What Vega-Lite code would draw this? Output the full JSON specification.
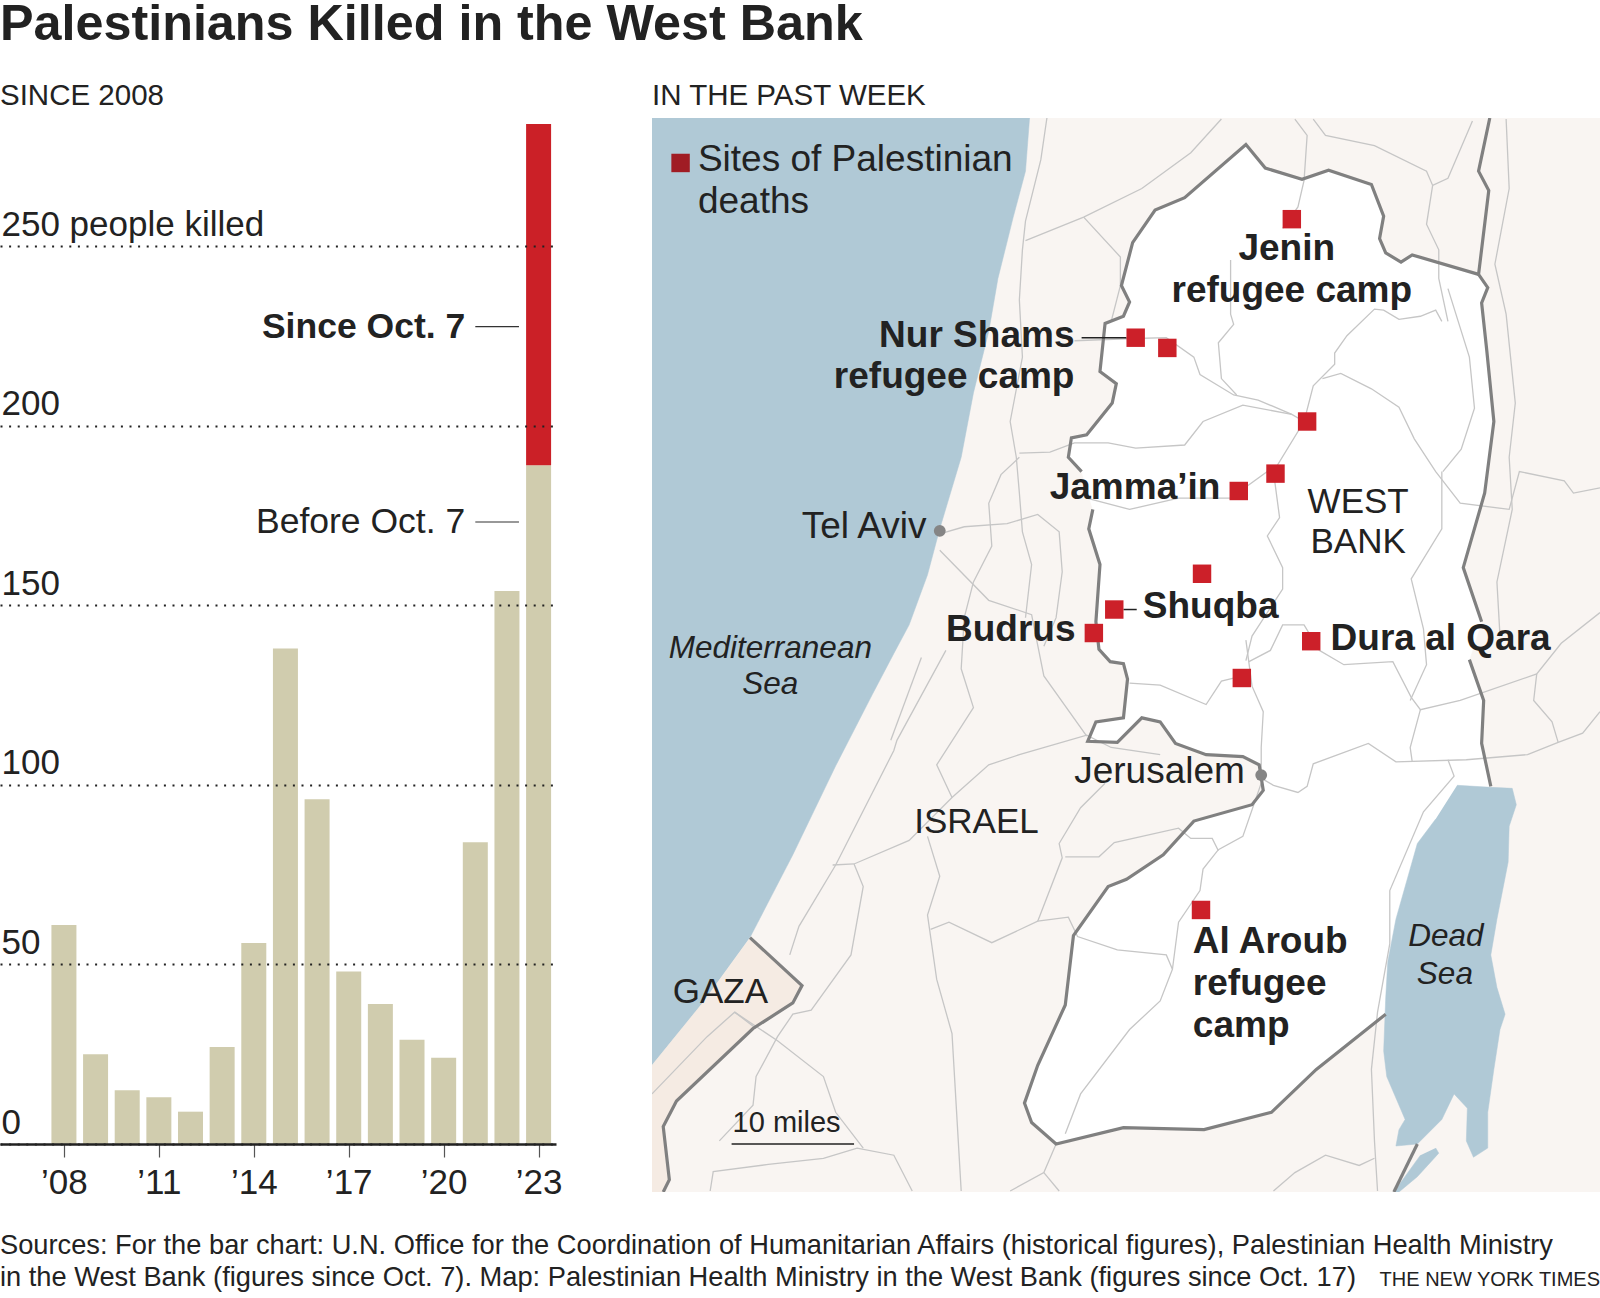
{"$schema":"https://vega.github.io/schema/vega-lite/v6.json","padding":0,"background":"white","title":{"text":"Palestinians Killed in the West Bank","anchor":"start","frame":"group","fontSize":50.3,"fontWeight":"bold","color":"#222","font":"Liberation Sans","offset":30},
"config":{"font":"Liberation Sans","view":{"stroke":null},"text":{"font":"Liberation Sans","color":"#222"}},
"datasets":{
"bars":[{"year":2008,"from":0,"to":61,"period":"Before Oct. 7"},{"year":2009,"from":0,"to":25,"period":"Before Oct. 7"},{"year":2010,"from":0,"to":15,"period":"Before Oct. 7"},{"year":2011,"from":0,"to":13,"period":"Before Oct. 7"},{"year":2012,"from":0,"to":9,"period":"Before Oct. 7"},{"year":2013,"from":0,"to":27,"period":"Before Oct. 7"},{"year":2014,"from":0,"to":56,"period":"Before Oct. 7"},{"year":2015,"from":0,"to":138,"period":"Before Oct. 7"},{"year":2016,"from":0,"to":96,"period":"Before Oct. 7"},{"year":2017,"from":0,"to":48,"period":"Before Oct. 7"},{"year":2018,"from":0,"to":39,"period":"Before Oct. 7"},{"year":2019,"from":0,"to":29,"period":"Before Oct. 7"},{"year":2020,"from":0,"to":24,"period":"Before Oct. 7"},{"year":2021,"from":0,"to":84,"period":"Before Oct. 7"},{"year":2022,"from":0,"to":154,"period":"Before Oct. 7"},{"year":2023,"from":0,"to":189,"period":"Before Oct. 7"},{"year":2023,"from":189,"to":284,"period":"Since Oct. 7"}],
"notes":[{"label":"Since Oct. 7","year":2020.68,"start":2021.0,"end":2022.38,"value":227.6,"bold":true},{"label":"Before Oct. 7","year":2020.68,"start":2021.0,"end":2022.38,"value":173.2,"bold":false}],
"poly":[
{"k":"sea","x":639,"y":116},{"k":"sea","x":1009,"y":116},{"k":"sea","x":1005,"y":168},{"k":"sea","x":993,"y":213},{"k":"sea","x":978,"y":273},{"k":"sea","x":969,"y":325},{"k":"sea","x":954,"y":385},{"k":"sea","x":942,"y":448},{"k":"sea","x":921,"y":518},{"k":"sea","x":909,"y":563},{"k":"sea","x":891,"y":612},{"k":"sea","x":876,"y":640},{"k":"sea","x":855,"y":680},{"k":"sea","x":819,"y":750},{"k":"sea","x":777,"y":837},{"k":"sea","x":735,"y":918},{"k":"sea","x":687,"y":984},{"k":"sea","x":639,"y":1043},
{"k":"gaza","x":735,"y":918},{"k":"gaza","x":786,"y":965},{"k":"gaza","x":777,"y":982},{"k":"gaza","x":738,"y":1007},{"k":"gaza","x":663,"y":1078},{"k":"gaza","x":650,"y":1103},{"k":"gaza","x":656,"y":1155},{"k":"gaza","x":650,"y":1167},{"k":"gaza","x":639,"y":1167},{"k":"gaza","x":639,"y":1043},{"k":"gaza","x":687,"y":984},
{"k":"wb","x":1221,"y":142},{"k":"wb","x":1240,"y":165},{"k":"wb","x":1276,"y":176},{"k":"wb","x":1302,"y":167},{"k":"wb","x":1344,"y":181},{"k":"wb","x":1356,"y":212},{"k":"wb","x":1352,"y":234},{"k":"wb","x":1358,"y":248},{"k":"wb","x":1373,"y":257},{"k":"wb","x":1384,"y":250},{"k":"wb","x":1449,"y":269},{"k":"wb","x":1458,"y":282},{"k":"wb","x":1452,"y":297},{"k":"wb","x":1457,"y":343},{"k":"wb","x":1464,"y":413},{"k":"wb","x":1455,"y":483},{"k":"wb","x":1434,"y":556},{"k":"wb","x":1452,"y":609},{"k":"wb","x":1440,"y":646},{"k":"wb","x":1454,"y":686},{"k":"wb","x":1452,"y":728},{"k":"wb","x":1461,"y":770},{"k":"wb","x":1358,"y":993},{"k":"wb","x":1290,"y":1047},{"k":"wb","x":1246,"y":1089},{"k":"wb","x":1180,"y":1106},{"k":"wb","x":1101,"y":1104},{"k":"wb","x":1035,"y":1120},{"k":"wb","x":1011,"y":1099},{"k":"wb","x":1004,"y":1080},{"k":"wb","x":1017,"y":1043},{"k":"wb","x":1044,"y":984},{"k":"wb","x":1052,"y":916},{"k":"wb","x":1086,"y":868},{"k":"wb","x":1104,"y":861},{"k":"wb","x":1140,"y":837},{"k":"wb","x":1170,"y":804},{"k":"wb","x":1227,"y":788},{"k":"wb","x":1238,"y":774},{"k":"wb","x":1234,"y":749},{"k":"wb","x":1218,"y":741},{"k":"wb","x":1182,"y":739},{"k":"wb","x":1152,"y":728},{"k":"wb","x":1137,"y":707},{"k":"wb","x":1119,"y":703},{"k":"wb","x":1095,"y":727},{"k":"wb","x":1066,"y":726},{"k":"wb","x":1074,"y":707},{"k":"wb","x":1101,"y":703},{"k":"wb","x":1105,"y":665},{"k":"wb","x":1101,"y":650},{"k":"wb","x":1088,"y":648},{"k":"wb","x":1077,"y":636},{"k":"wb","x":1074,"y":609},{"k":"wb","x":1078,"y":553},{"k":"wb","x":1067,"y":518},{"k":"wb","x":1071,"y":499},{"k":"wb","x":1060,"y":462},{"k":"wb","x":1047,"y":448},{"k":"wb","x":1050,"y":429},{"k":"wb","x":1065,"y":426},{"k":"wb","x":1090,"y":395},{"k":"wb","x":1094,"y":376},{"k":"wb","x":1078,"y":364},{"k":"wb","x":1083,"y":317},{"k":"wb","x":1101,"y":310},{"k":"wb","x":1107,"y":296},{"k":"wb","x":1099,"y":280},{"k":"wb","x":1110,"y":238},{"k":"wb","x":1132,"y":206},{"k":"wb","x":1161,"y":194},
{"k":"ds","x":1428,"y":769},{"k":"ds","x":1461,"y":771},{"k":"ds","x":1482,"y":772},{"k":"ds","x":1486,"y":788},{"k":"ds","x":1479,"y":809},{"k":"ds","x":1478,"y":844},{"k":"ds","x":1467,"y":900},{"k":"ds","x":1461,"y":935},{"k":"ds","x":1467,"y":967},{"k":"ds","x":1475,"y":993},{"k":"ds","x":1470,"y":1008},{"k":"ds","x":1464,"y":1047},{"k":"ds","x":1458,"y":1089},{"k":"ds","x":1458,"y":1124},{"k":"ds","x":1444,"y":1133},{"k":"ds","x":1437,"y":1117},{"k":"ds","x":1438,"y":1085},{"k":"ds","x":1425,"y":1071},{"k":"ds","x":1413,"y":1096},{"k":"ds","x":1389,"y":1120},{"k":"ds","x":1368,"y":1122},{"k":"ds","x":1371,"y":1106},{"k":"ds","x":1377,"y":1096},{"k":"ds","x":1359,"y":1054},{"k":"ds","x":1356,"y":1029},{"k":"ds","x":1358,"y":977},{"k":"ds","x":1360,"y":942},{"k":"ds","x":1368,"y":900},{"k":"ds","x":1389,"y":826},{"k":"ds","x":1407,"y":802},
{"k":"ds2","x":1407,"y":1124},{"k":"ds2","x":1410,"y":1129},{"k":"ds2","x":1389,"y":1152},{"k":"ds2","x":1371,"y":1167},{"k":"ds2","x":1366,"y":1167},{"k":"ds2","x":1392,"y":1131}],
"roads":[
{"k":"r1","x":1026,"y":116},{"k":"r1","x":1020,"y":157},{"k":"r1","x":1005,"y":217},{"k":"r1","x":1002,"y":245},{"k":"r1","x":999,"y":294},{"k":"r1","x":1002,"y":350},{"k":"r1","x":990,"y":413},{"k":"r1","x":996,"y":448},{"k":"r1","x":999,"y":483},{"k":"r1","x":1002,"y":521},{"k":"r1","x":1011,"y":553},{"k":"r1","x":1005,"y":605},
{"k":"r2","x":1005,"y":236},{"k":"r2","x":1062,"y":213},{"k":"r2","x":1119,"y":185},{"k":"r2","x":1167,"y":150},{"k":"r2","x":1197,"y":117},
{"k":"r3","x":1062,"y":213},{"k":"r3","x":1098,"y":252},{"k":"r3","x":1098,"y":280},{"k":"r3","x":1089,"y":315},
{"k":"r4","x":1053,"y":334},{"k":"r4","x":1104,"y":332},{"k":"r4","x":1143,"y":331},{"k":"r4","x":1170,"y":350},{"k":"r4","x":1176,"y":367},{"k":"r4","x":1209,"y":387},{"k":"r4","x":1233,"y":392},{"k":"r4","x":1266,"y":406},{"k":"r4","x":1278,"y":413},
{"k":"r5","x":1269,"y":117},{"k":"r5","x":1281,"y":133},{"k":"r5","x":1278,"y":177},{"k":"r5","x":1272,"y":203},{"k":"r5","x":1257,"y":224},
{"k":"r6","x":1206,"y":255},{"k":"r6","x":1206,"y":308},{"k":"r6","x":1209,"y":318},{"k":"r6","x":1194,"y":336},{"k":"r6","x":1197,"y":371},{"k":"r6","x":1212,"y":387},
{"k":"r7","x":1287,"y":117},{"k":"r7","x":1299,"y":133},{"k":"r7","x":1347,"y":143},{"k":"r7","x":1398,"y":168},{"k":"r7","x":1404,"y":182},{"k":"r7","x":1419,"y":175},{"k":"r7","x":1443,"y":119},
{"k":"r8","x":1404,"y":182},{"k":"r8","x":1398,"y":220},{"k":"r8","x":1410,"y":245},{"k":"r8","x":1410,"y":273},{"k":"r8","x":1419,"y":315},
{"k":"r9","x":1413,"y":315},{"k":"r9","x":1407,"y":304},{"k":"r9","x":1392,"y":310},{"k":"r9","x":1371,"y":313},{"k":"r9","x":1356,"y":304},{"k":"r9","x":1347,"y":303},{"k":"r9","x":1320,"y":329},{"k":"r9","x":1308,"y":346},{"k":"r9","x":1308,"y":357},{"k":"r9","x":1287,"y":378},{"k":"r9","x":1278,"y":413},{"k":"r9","x":1248,"y":462},{"k":"r9","x":1254,"y":507},{"k":"r9","x":1242,"y":525},{"k":"r9","x":1257,"y":556},{"k":"r9","x":1257,"y":577},{"k":"r9","x":1227,"y":623},{"k":"r9","x":1221,"y":647},
{"k":"r10","x":1296,"y":371},{"k":"r10","x":1314,"y":366},{"k":"r10","x":1344,"y":381},{"k":"r10","x":1371,"y":399},{"k":"r10","x":1386,"y":430},{"k":"r10","x":1407,"y":462},{"k":"r10","x":1431,"y":493},{"k":"r10","x":1479,"y":499},{"k":"r10","x":1489,"y":462},{"k":"r10","x":1533,"y":471},{"k":"r10","x":1542,"y":483},{"k":"r10","x":1568,"y":478},
{"k":"r11","x":1419,"y":283},{"k":"r11","x":1440,"y":350},{"k":"r11","x":1445,"y":400},{"k":"r11","x":1432,"y":440},{"k":"r11","x":1414,"y":462},
{"k":"r12","x":999,"y":444},{"k":"r12","x":1029,"y":443},{"k":"r12","x":1053,"y":434},{"k":"r12","x":1086,"y":434},{"k":"r12","x":1113,"y":439},{"k":"r12","x":1161,"y":436},{"k":"r12","x":1179,"y":413},{"k":"r12","x":1218,"y":397},{"k":"r12","x":1266,"y":406},
{"k":"r13","x":1065,"y":488},{"k":"r13","x":1107,"y":499},{"k":"r13","x":1155,"y":488},{"k":"r13","x":1206,"y":488},{"k":"r13","x":1242,"y":462},
{"k":"r14","x":921,"y":523},{"k":"r14","x":945,"y":516},{"k":"r14","x":987,"y":513},{"k":"r14","x":1017,"y":504},{"k":"r14","x":1038,"y":521},{"k":"r14","x":1041,"y":560},{"k":"r14","x":1035,"y":605},{"k":"r14","x":1023,"y":633},
{"k":"r15","x":921,"y":539},{"k":"r15","x":969,"y":588},{"k":"r15","x":1011,"y":602},{"k":"r15","x":1023,"y":662},{"k":"r15","x":1065,"y":721},
{"k":"r16","x":999,"y":448},{"k":"r16","x":981,"y":465},{"k":"r16","x":969,"y":493},{"k":"r16","x":972,"y":535},{"k":"r16","x":954,"y":570},{"k":"r16","x":945,"y":605},{"k":"r16","x":942,"y":655},{"k":"r16","x":954,"y":693},{"k":"r16","x":918,"y":749},{"k":"r16","x":933,"y":781},
{"k":"r17","x":927,"y":637},{"k":"r17","x":879,"y":725},{"k":"r17","x":876,"y":735},{"k":"r17","x":819,"y":847},{"k":"r17","x":783,"y":907},{"k":"r17","x":774,"y":935},
{"k":"r17b","x":816,"y":847},{"k":"r17b","x":837,"y":846},{"k":"r17b","x":891,"y":823},{"k":"r17b","x":933,"y":781},{"k":"r17b","x":969,"y":749},{"k":"r17b","x":999,"y":739},{"k":"r17b","x":1065,"y":720},{"k":"r17b","x":1089,"y":732},{"k":"r17b","x":1137,"y":739},
{"k":"r18","x":837,"y":846},{"k":"r18","x":846,"y":868},{"k":"r18","x":834,"y":935},{"k":"r18","x":795,"y":989},{"k":"r18","x":777,"y":993},{"k":"r18","x":762,"y":1015},{"k":"r18","x":741,"y":1054},{"k":"r18","x":738,"y":1082},{"k":"r18","x":705,"y":1117},
{"k":"r19","x":909,"y":819},{"k":"r19","x":921,"y":858},{"k":"r19","x":909,"y":896},{"k":"r19","x":918,"y":959},{"k":"r19","x":933,"y":1012},{"k":"r19","x":942,"y":1166},
{"k":"r20","x":912,"y":910},{"k":"r20","x":930,"y":903},{"k":"r20","x":972,"y":923},{"k":"r20","x":1017,"y":902},{"k":"r20","x":1047,"y":898},{"k":"r20","x":1056,"y":917},{"k":"r20","x":1095,"y":930},{"k":"r20","x":1143,"y":935},{"k":"r20","x":1149,"y":949},{"k":"r20","x":1137,"y":980},{"k":"r20","x":1107,"y":1008},{"k":"r20","x":1059,"y":1071},{"k":"r20","x":1044,"y":1110},
{"k":"r21","x":1017,"y":902},{"k":"r21","x":1041,"y":840},{"k":"r21","x":1038,"y":826},{"k":"r21","x":1059,"y":791},{"k":"r21","x":1083,"y":767},
{"k":"r22","x":1044,"y":839},{"k":"r22","x":1077,"y":839},{"k":"r22","x":1092,"y":825},{"k":"r22","x":1155,"y":811},{"k":"r22","x":1167,"y":821},{"k":"r22","x":1188,"y":821},{"k":"r22","x":1194,"y":833},
{"k":"r23","x":1236,"y":767},{"k":"r23","x":1218,"y":819},{"k":"r23","x":1194,"y":832},{"k":"r23","x":1179,"y":851},{"k":"r23","x":1176,"y":872},{"k":"r23","x":1155,"y":903},{"k":"r23","x":1149,"y":949},
{"k":"r24","x":1236,"y":762},{"k":"r24","x":1248,"y":769},{"k":"r24","x":1272,"y":776},{"k":"r24","x":1281,"y":770},{"k":"r24","x":1287,"y":748},{"k":"r24","x":1341,"y":728},{"k":"r24","x":1368,"y":746},{"k":"r24","x":1437,"y":744},{"k":"r24","x":1497,"y":739},{"k":"r24","x":1527,"y":727},{"k":"r24","x":1551,"y":718},{"k":"r24","x":1568,"y":697},
{"k":"r25","x":1221,"y":627},{"k":"r25","x":1227,"y":672},{"k":"r25","x":1238,"y":697},{"k":"r25","x":1236,"y":732},{"k":"r25","x":1236,"y":760},
{"k":"r26","x":1107,"y":669},{"k":"r26","x":1137,"y":671},{"k":"r26","x":1182,"y":690},{"k":"r26","x":1197,"y":667},{"k":"r26","x":1218,"y":662},
{"k":"r27","x":1293,"y":637},{"k":"r27","x":1317,"y":651},{"k":"r27","x":1365,"y":648},{"k":"r27","x":1383,"y":683},{"k":"r27","x":1392,"y":695},{"k":"r27","x":1431,"y":686},{"k":"r27","x":1506,"y":660},{"k":"r27","x":1530,"y":630},{"k":"r27","x":1568,"y":600},
{"k":"r28","x":1392,"y":695},{"k":"r28","x":1382,"y":732},{"k":"r28","x":1384,"y":746},
{"k":"r29","x":1506,"y":660},{"k":"r29","x":1503,"y":686},{"k":"r29","x":1521,"y":707},{"k":"r29","x":1527,"y":727},
{"k":"r30","x":1419,"y":744},{"k":"r30","x":1425,"y":760},{"k":"r30","x":1395,"y":795},{"k":"r30","x":1362,"y":872},{"k":"r30","x":1362,"y":924},{"k":"r30","x":1350,"y":991},{"k":"r30","x":1344,"y":1047},{"k":"r30","x":1347,"y":1117},{"k":"r30","x":1350,"y":1166},
{"k":"r31","x":696,"y":1166},{"k":"r31","x":699,"y":1147},{"k":"r31","x":753,"y":1140},{"k":"r31","x":807,"y":1134},{"k":"r31","x":840,"y":1124},{"k":"r31","x":876,"y":1131},{"k":"r31","x":894,"y":1166},
{"k":"r32","x":720,"y":991},{"k":"r32","x":762,"y":1019},{"k":"r32","x":807,"y":1054},{"k":"r32","x":819,"y":1089},{"k":"r32","x":846,"y":1124},
{"k":"r33","x":639,"y":1071},{"k":"r33","x":693,"y":1015},{"k":"r33","x":720,"y":991},{"k":"r33","x":741,"y":1007},
{"k":"r34","x":1035,"y":1120},{"k":"r34","x":1023,"y":1148},{"k":"r34","x":990,"y":1166},
{"k":"r34b","x":1023,"y":1148},{"k":"r34b","x":1038,"y":1166},
{"k":"r35","x":1248,"y":1166},{"k":"r35","x":1269,"y":1148},{"k":"r35","x":1299,"y":1131},{"k":"r35","x":1332,"y":1141},{"k":"r35","x":1347,"y":1134},
{"k":"r36","x":1476,"y":117},{"k":"r36","x":1479,"y":185},{"k":"r36","x":1465,"y":259},{"k":"r36","x":1476,"y":308},{"k":"r36","x":1485,"y":395},{"k":"r36","x":1479,"y":448},{"k":"r36","x":1482,"y":499},{"k":"r36","x":1467,"y":570},{"k":"r36","x":1470,"y":623},
{"k":"r37","x":1413,"y":462},{"k":"r37","x":1413,"y":518},{"k":"r37","x":1383,"y":567},{"k":"r37","x":1395,"y":616},{"k":"r37","x":1398,"y":651},{"k":"r37","x":1382,"y":686},
{"k":"r38","x":1224,"y":648},{"k":"r38","x":1245,"y":637},{"k":"r38","x":1257,"y":612},{"k":"r38","x":1278,"y":612},{"k":"r38","x":1293,"y":637},
{"k":"r40","x":903,"y":644},{"k":"r40","x":873,"y":725}],
"borders":[
{"k":"a","x":1449,"y":269},{"k":"a","x":1384,"y":250},{"k":"a","x":1373,"y":257},{"k":"a","x":1358,"y":248},{"k":"a","x":1352,"y":234},{"k":"a","x":1356,"y":212},{"k":"a","x":1344,"y":181},{"k":"a","x":1302,"y":167},{"k":"a","x":1276,"y":176},{"k":"a","x":1240,"y":165},{"k":"a","x":1221,"y":142},{"k":"a","x":1161,"y":194},{"k":"a","x":1132,"y":206},{"k":"a","x":1110,"y":238},{"k":"a","x":1099,"y":280},{"k":"a","x":1107,"y":296},{"k":"a","x":1101,"y":310},{"k":"a","x":1083,"y":317},{"k":"a","x":1078,"y":364},{"k":"a","x":1094,"y":376},{"k":"a","x":1090,"y":395},{"k":"a","x":1065,"y":426},{"k":"a","x":1050,"y":429},{"k":"a","x":1047,"y":448},{"k":"a","x":1060,"y":462},
{"k":"b","x":1071,"y":499},{"k":"b","x":1067,"y":518},{"k":"b","x":1078,"y":553},{"k":"b","x":1074,"y":609},{"k":"b","x":1077,"y":636},{"k":"b","x":1088,"y":648},{"k":"b","x":1101,"y":650},{"k":"b","x":1105,"y":665},{"k":"b","x":1101,"y":703},{"k":"b","x":1074,"y":707},{"k":"b","x":1066,"y":726},{"k":"b","x":1095,"y":727},{"k":"b","x":1119,"y":703},{"k":"b","x":1137,"y":707},{"k":"b","x":1152,"y":728},{"k":"b","x":1182,"y":739},{"k":"b","x":1218,"y":741},{"k":"b","x":1234,"y":749},{"k":"b","x":1238,"y":774},{"k":"b","x":1227,"y":788},{"k":"b","x":1170,"y":804},{"k":"b","x":1140,"y":837},{"k":"b","x":1104,"y":861},{"k":"b","x":1086,"y":868},{"k":"b","x":1052,"y":916},{"k":"b","x":1044,"y":984},{"k":"b","x":1017,"y":1043},{"k":"b","x":1004,"y":1080},{"k":"b","x":1011,"y":1099},{"k":"b","x":1035,"y":1120},{"k":"b","x":1101,"y":1104},{"k":"b","x":1180,"y":1106},{"k":"b","x":1246,"y":1089},{"k":"b","x":1290,"y":1047},{"k":"b","x":1358,"y":993},
{"k":"c","x":1460,"y":116},{"k":"c","x":1449,"y":168},{"k":"c","x":1459,"y":187},{"k":"c","x":1449,"y":269},{"k":"c","x":1458,"y":282},{"k":"c","x":1452,"y":297},{"k":"c","x":1457,"y":343},{"k":"c","x":1464,"y":413},{"k":"c","x":1455,"y":483},{"k":"c","x":1434,"y":556},{"k":"c","x":1452,"y":609},
{"k":"d","x":1440,"y":646},{"k":"d","x":1454,"y":686},{"k":"d","x":1452,"y":728},{"k":"d","x":1461,"y":770},
{"k":"e","x":1389,"y":1120},{"k":"e","x":1366,"y":1167},
{"k":"f","x":735,"y":918},{"k":"f","x":786,"y":965},{"k":"f","x":777,"y":982},{"k":"f","x":738,"y":1007},{"k":"f","x":663,"y":1078},{"k":"f","x":650,"y":1103},{"k":"f","x":656,"y":1155},{"k":"f","x":650,"y":1167}],
"sites":[{"name":"Jenin","x":1266,"y":215},{"name":"Nur Shams","x":1113,"y":331},{"name":"","x":1144,"y":341},{"name":"","x":1281,"y":413},{"name":"","x":1250,"y":464},{"name":"Jamma’in","x":1214,"y":481},{"name":"","x":1178,"y":562},{"name":"Shuqba","x":1092,"y":597},{"name":"Budrus","x":1072,"y":620},{"name":"Dura al Qara","x":1285,"y":628},{"name":"","x":1217,"y":664},{"name":"Al Aroub","x":1177,"y":891}],
"leaders":[{"x":1060,"x2":1104,"y":331},{"x":1101,"x2":1114,"y":597},{"x":717,"x2":837,"y":1120}],
"cities":[{"name":"Tel Aviv","x":921,"y":520},{"name":"Jerusalem","x":1236,"y":759}],
"labels":[
{"t":"Jenin","x":1261,"y":255,"g":"bc"},{"t":"refugee camp","x":1266,"y":296,"g":"bc"},
{"t":"Nur Shams","x":1053,"y":340,"g":"br"},{"t":"refugee camp","x":1053,"y":380,"g":"br"},{"t":"Jamma’in","x":1196,"y":489,"g":"br"},{"t":"Budrus","x":1054,"y":628,"g":"br"},
{"t":"Shuqba","x":1120,"y":605,"g":"bl"},{"t":"Dura al Qara","x":1304,"y":637,"g":"bl"},{"t":"Al Aroub","x":1169,"y":933,"g":"bl"},{"t":"refugee","x":1169,"y":974,"g":"bl"},{"t":"camp","x":1169,"y":1015,"g":"bl"},
{"t":"WEST","x":1331,"y":503,"g":"rc"},{"t":"BANK","x":1331,"y":542,"g":"rc"},{"t":"ISRAEL","x":957,"y":816,"g":"rc"},{"t":"GAZA","x":706,"y":982,"g":"rc"},
{"t":"Tel Aviv","x":908,"y":527,"g":"rr"},{"t":"Jerusalem","x":1220,"y":767,"g":"rr"},
{"t":"Sites of Palestinian","x":684,"y":168,"g":"rl"},{"t":"deaths","x":684,"y":209,"g":"rl"},
{"t":"10 miles","x":718,"y":1108,"g":"sl"},
{"t":"Mediterranean","x":755,"y":644,"g":"ic"},{"t":"Sea","x":755,"y":680,"g":"ic"},{"t":"Dead","x":1417,"y":926,"g":"ic"},{"t":"Sea","x":1416,"y":963,"g":"ic"}],
"legend":[{"label":"Sites of Palestinian deaths","x":667,"y":160}],
"footer":[{"t":"Sources: For the bar chart: U.N. Office for the Coordination of Humanitarian Affairs (historical figures), Palestinian Health Ministry","line":1,"col":0},{"t":"in the West Bank (figures since Oct. 7). Map: Palestinian Health Ministry in the West Bank (figures since Oct. 17)","line":2,"col":0}],
"credit":[{"t":"THE NEW YORK TIMES","line":2,"col":1}]
},
"vconcat":[{"hconcat":[
{"width":556,"height":1026,"title":{"text":"SINCE 2008","anchor":"start","frame":"group","fontSize":29.5,"fontWeight":"normal","color":"#222","baseline":"alphabetic","offset":-16},
"layer":[
{"data":{"name":"bars"},"mark":{"type":"bar","size":25,"orient":"vertical"},"encoding":{
"x":{"field":"year","type":"quantitative","scale":{"domain":[2005.98,2023.55],"nice":false,"zero":false,"padding":0},"axis":{"values":[2008,2011,2014,2017,2020,2023],"title":null,"grid":false,"labelExpr":"'’' + substring('' + datum.value, 2)","labelFontSize":35,"labelColor":"#222","labelPadding":8,"tickSize":13,"tickColor":"#555","tickWidth":1.2,"domainColor":"#222","domainWidth":2.5,"labelFlush":false,"labelOverlap":false,"zindex":1}},
"y":{"field":"to","type":"quantitative","scale":{"domain":[0,285.7],"nice":false},"axis":{"values":[0,50,100,150,200,250],"title":null,"domain":false,"ticks":false,"grid":true,"gridDash":[2,6.6],"gridColor":"#222","gridWidth":2,"labelExpr":"datum.value == 250 ? '250 people killed' : datum.label","labelAlign":"left","labelBaseline":"alphabetic","labelPadding":-1,"labelOffset":-11,"labelFontSize":35,"labelColor":"#222","labelLimit":500,"zindex":1}},
"y2":{"field":"from"},
"color":{"field":"period","type":"nominal","scale":{"domain":["Before Oct. 7","Since Oct. 7"],"range":["#d0ccae","#cb2027"]},"legend":null}}},
{"data":{"name":"notes"},"mark":{"type":"rule","color":"#333","strokeWidth":1.2},"encoding":{"x":{"field":"start","type":"quantitative"},"x2":{"field":"end"},"y":{"field":"value","type":"quantitative"}}},
{"data":{"name":"notes"},"transform":[{"filter":"datum.bold"}],"mark":{"type":"text","align":"right","baseline":"middle","fontSize":35.5,"fontWeight":"bold"},"encoding":{"x":{"field":"year","type":"quantitative"},"y":{"field":"value","type":"quantitative"},"text":{"field":"label"}}},
{"data":{"name":"notes"},"transform":[{"filter":"!datum.bold"}],"mark":{"type":"text","align":"right","baseline":"middle","fontSize":35.5},"encoding":{"x":{"field":"year","type":"quantitative"},"y":{"field":"value","type":"quantitative"},"text":{"field":"label"}}}
]},
{"width":948,"height":1074,"view":{"fill":"#f9f5f2","stroke":null},"title":{"text":"IN THE PAST WEEK","anchor":"start","frame":"group","fontSize":29.5,"fontWeight":"normal","color":"#222","baseline":"alphabetic","offset":-16},
"encoding":{"x":{"field":"x","type":"quantitative","scale":{"domain":[639,1568],"nice":false,"zero":false},"axis":null},"y":{"field":"y","type":"quantitative","scale":{"domain":[116,1167],"reverse":true,"nice":false,"zero":false},"axis":null}},
"layer":[
{"data":{"name":"poly"},"transform":[{"filter":"datum.k == 'sea'"}],"mark":{"type":"line","fill":"#b0c9d6","stroke":"#b0c9d6","strokeWidth":0.5,"clip":true},"encoding":{"order":{"value":null}}},
{"data":{"name":"poly"},"transform":[{"filter":"datum.k == 'gaza'"}],"mark":{"type":"line","fill":"#f5ebe3","stroke":"#f5ebe3","strokeWidth":0.5,"clip":true},"encoding":{"order":{"value":null}}},
{"data":{"name":"poly"},"transform":[{"filter":"datum.k == 'wb'"}],"mark":{"type":"line","fill":"#ffffff","stroke":"#ffffff","strokeWidth":0.5,"clip":true},"encoding":{"order":{"value":null}}},
{"data":{"name":"roads"},"mark":{"type":"line","stroke":"#c6c6c6","strokeWidth":1.3,"clip":true},"encoding":{"detail":{"field":"k"},"order":{"value":null}}},
{"data":{"name":"poly"},"transform":[{"filter":"datum.k == 'ds'"}],"mark":{"type":"line","fill":"#b0c9d6","stroke":"#b0c9d6","strokeWidth":0.5,"clip":true},"encoding":{"order":{"value":null}}},
{"data":{"name":"poly"},"transform":[{"filter":"datum.k == 'ds2'"}],"mark":{"type":"line","fill":"#b0c9d6","stroke":"#b0c9d6","strokeWidth":0.5,"clip":true},"encoding":{"order":{"value":null}}},
{"data":{"name":"borders"},"mark":{"type":"line","stroke":"#808080","strokeWidth":3.2,"clip":true},"encoding":{"detail":{"field":"k"},"order":{"value":null}}},
{"data":{"name":"leaders"},"mark":{"type":"rule","color":"#222","strokeWidth":1.5},"encoding":{"x2":{"field":"x2"}}},
{"data":{"name":"cities"},"mark":{"type":"circle","size":140,"color":"#858585","opacity":1}},
{"data":{"name":"sites"},"mark":{"type":"square","size":340,"color":"#cc2029","opacity":1}},
{"data":{"name":"legend"},"mark":{"type":"square","size":340,"color":"#a01c24","opacity":1}},
{"data":{"name":"labels"},"transform":[{"filter":"datum.g == 'bc'"}],"mark":{"type":"text","align":"center","baseline":"alphabetic","fontSize":37,"fontWeight":"bold"},"encoding":{"text":{"field":"t"}}},
{"data":{"name":"labels"},"transform":[{"filter":"datum.g == 'br'"}],"mark":{"type":"text","align":"right","baseline":"alphabetic","fontSize":37,"fontWeight":"bold"},"encoding":{"text":{"field":"t"}}},
{"data":{"name":"labels"},"transform":[{"filter":"datum.g == 'bl'"}],"mark":{"type":"text","align":"left","baseline":"alphabetic","fontSize":37,"fontWeight":"bold"},"encoding":{"text":{"field":"t"}}},
{"data":{"name":"labels"},"transform":[{"filter":"datum.g == 'rc'"}],"mark":{"type":"text","align":"center","baseline":"alphabetic","fontSize":35},"encoding":{"text":{"field":"t"}}},
{"data":{"name":"labels"},"transform":[{"filter":"datum.g == 'rr'"}],"mark":{"type":"text","align":"right","baseline":"alphabetic","fontSize":37},"encoding":{"text":{"field":"t"}}},
{"data":{"name":"labels"},"transform":[{"filter":"datum.g == 'rl'"}],"mark":{"type":"text","align":"left","baseline":"alphabetic","fontSize":37},"encoding":{"text":{"field":"t"}}},
{"data":{"name":"labels"},"transform":[{"filter":"datum.g == 'sl'"}],"mark":{"type":"text","align":"left","baseline":"alphabetic","fontSize":29},"encoding":{"text":{"field":"t"}}},
{"data":{"name":"labels"},"transform":[{"filter":"datum.g == 'ic'"}],"mark":{"type":"text","align":"center","baseline":"alphabetic","fontSize":31.5,"fontStyle":"italic"},"encoding":{"text":{"field":"t"}}}
]}
],"spacing":90},
{"width":1600,"height":64,"encoding":{"x":{"field":"col","type":"quantitative","scale":{"domain":[0,1],"nice":false},"axis":null},"y":{"field":"line","type":"quantitative","scale":{"domain":[0,2],"nice":false,"reverse":true},"axis":null},"text":{"field":"t"}},
"layer":[
{"data":{"name":"footer"},"mark":{"type":"text","align":"left","baseline":"alphabetic","fontSize":27.25}},
{"data":{"name":"credit"},"mark":{"type":"text","align":"right","baseline":"alphabetic","fontSize":20}}
]}
],"spacing":22}
